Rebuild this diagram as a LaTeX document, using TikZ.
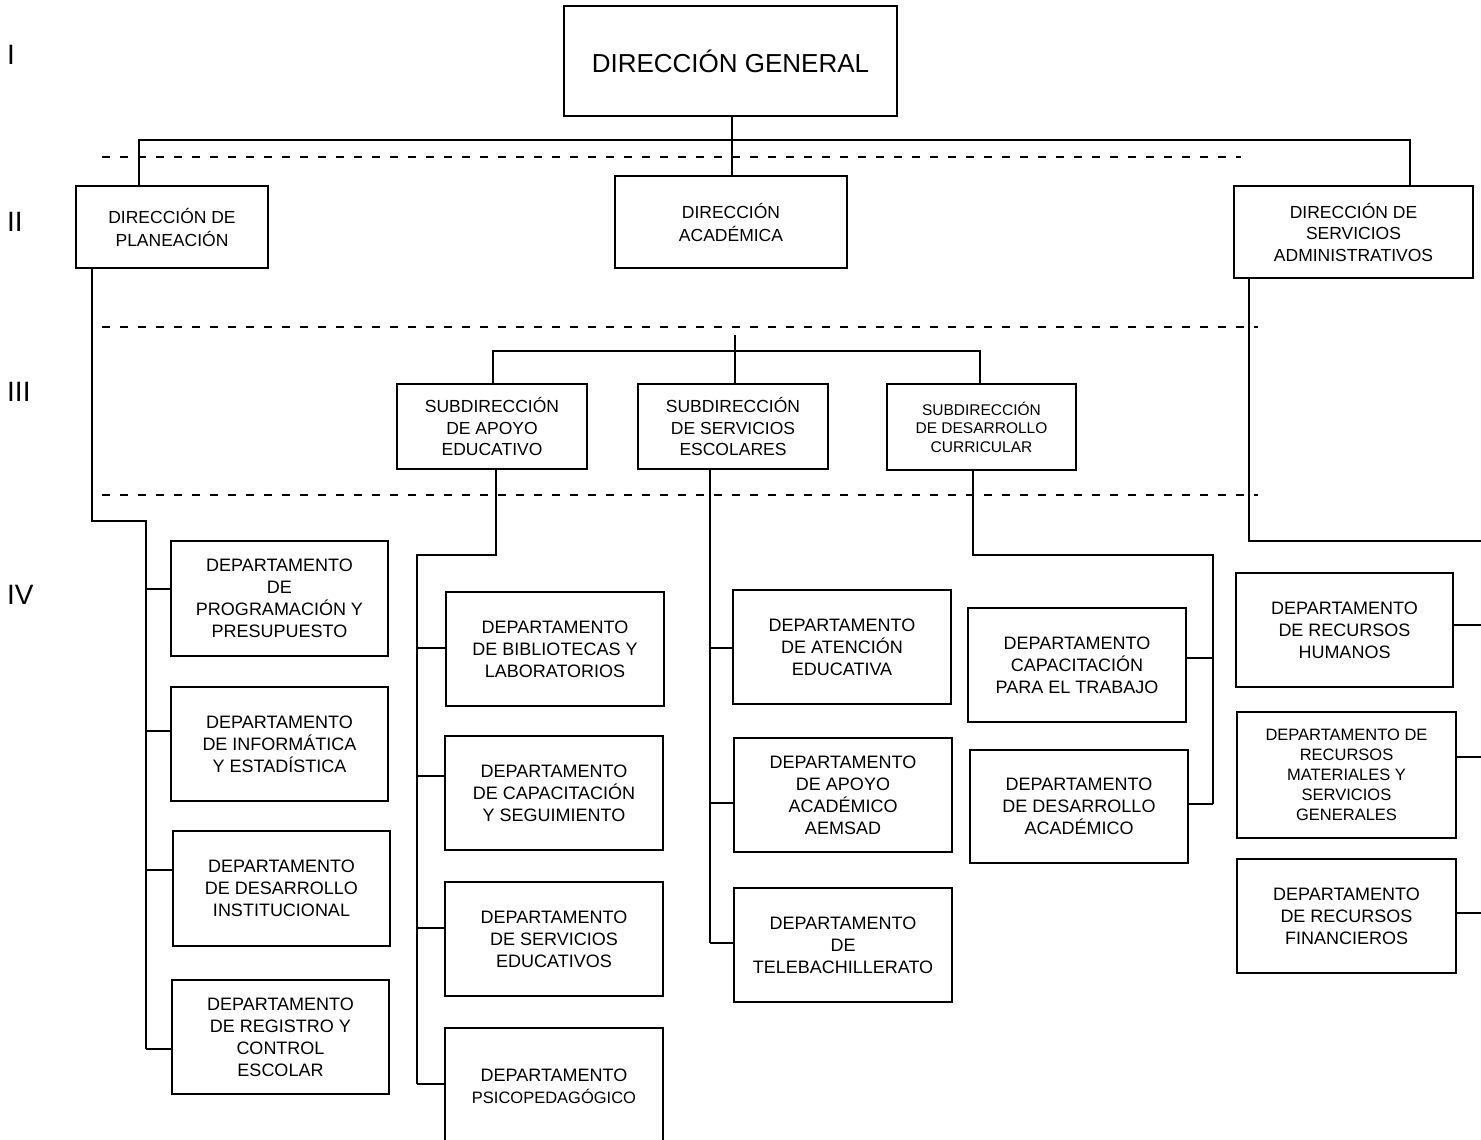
\documentclass[tikz,border=0pt]{standalone}
\usepackage{fontspec}
\setmainfont{Liberation Sans}
\begin{document}
\begin{tikzpicture}[x=1pt,y=-1pt,
  box/.style={draw,line width=1.6pt,inner sep=0pt,align=center,font=\fontsize{18}{22}\selectfont},
  dept/.style={box,minimum width=217pt,minimum height=114pt},
  conn/.style={line width=1.5pt},
  sepline/.style={line width=2.6pt,dash pattern=on 7.5pt off 10.5pt},
  lvl/.style={anchor=west,inner sep=0pt,font=\fontsize{28}{32}\selectfont}]
\useasboundingbox (0,0) rectangle (1481,1140);
\clip (0,0) rectangle (1481,1140);

% level labels
\node[lvl] (L1) at (7,55) {I};
\node[lvl] (L2) at (7,222) {II};
\node[lvl] (L3) at (7,392) {III};
\node[lvl] (L4) at (7,595) {IV};

% separators
\draw[sepline] (102,157) -- (1241,157);
\draw[sepline] (102,327) -- (1258,327);
\draw[sepline] (102,495) -- (1258,495);

% level I and II
\node[box,minimum width=333pt,minimum height=110pt,font=\fontsize{26}{30}\selectfont] (DG) at (730.5,61) {DIRECCIÓN GENERAL};
\node[box,minimum width=192pt,minimum height=82pt,font=\fontsize{17.5}{23}\selectfont] (DP) at (172,227) {DIRECCIÓN DE\\PLANEACIÓN};
\node[box,minimum width=232pt,minimum height=92pt,font=\fontsize{17.5}{23}\selectfont] (DA) at (731,222) {DIRECCIÓN\\ACADÉMICA};
\node[box,minimum width=239pt,minimum height=92pt,font=\fontsize{17.5}{21.5}\selectfont] (DSA) at (1353.5,232) {DIRECCIÓN DE\\SERVICIOS\\ADMINISTRATIVOS};

% level III
\node[box,minimum width=190pt,minimum height=85pt,font=\fontsize{17.5}{21.5}\selectfont] (SA) at (492,426.5) {SUBDIRECCIÓN\\DE APOYO\\EDUCATIVO};
\node[box,minimum width=190pt,minimum height=85pt,font=\fontsize{17.5}{21.5}\selectfont] (SS) at (733,426.5) {SUBDIRECCIÓN\\DE SERVICIOS\\ESCOLARES};
\node[box,minimum width=189pt,minimum height=86pt,font=\fontsize{15.5}{18.5}\selectfont] (SD) at (981.5,427) {SUBDIRECCIÓN\\DE DESARROLLO\\CURRICULAR};

% level IV - planeacion
\node[dept,minimum height=115pt] (B1) at (279.5,598.5) {DEPARTAMENTO\\DE\\PROGRAMACIÓN Y\\PRESUPUESTO};
\node[dept] (B2) at (279.5,744) {DEPARTAMENTO\\DE INFORMÁTICA\\Y ESTADÍSTICA};
\node[dept,minimum height=115pt] (B3) at (281.5,888.5) {DEPARTAMENTO\\DE DESARROLLO\\INSTITUCIONAL};
\node[dept] (B4) at (280.5,1037) {DEPARTAMENTO\\DE REGISTRO Y\\CONTROL\\ESCOLAR};

% apoyo educativo
\node[dept,minimum width=218pt] (A1) at (555,649) {DEPARTAMENTO\\DE BIBLIOTECAS Y\\LABORATORIOS};
\node[dept,minimum width=218pt] (A2) at (554,793) {DEPARTAMENTO\\DE CAPACITACIÓN\\Y SEGUIMIENTO};
\node[dept,minimum width=218pt] (A3) at (554,939) {DEPARTAMENTO\\DE SERVICIOS\\EDUCATIVOS};
\node[dept,minimum width=218pt,minimum height=116pt] (A4) at (554,1086) {DEPARTAMENTO\\{\fontsize{16.5}{20}\selectfont PSICOPEDAGÓGICO}};

% servicios escolares
\node[dept,minimum width=218pt] (S1) at (842,647) {DEPARTAMENTO\\DE ATENCIÓN\\EDUCATIVA};
\node[dept,minimum width=218pt] (S2) at (843,795) {DEPARTAMENTO\\DE APOYO\\ACADÉMICO\\AEMSAD};
\node[dept,minimum width=218pt] (S3) at (843,945) {DEPARTAMENTO\\DE\\TELEBACHILLERATO};

% desarrollo curricular
\node[dept,minimum width=218pt] (D1) at (1077,665) {DEPARTAMENTO\\CAPACITACIÓN\\PARA EL TRABAJO};
\node[dept,minimum width=218pt,minimum height=113pt] (D2) at (1079,806.5) {DEPARTAMENTO\\DE DESARROLLO\\ACADÉMICO};

% servicios administrativos
\node[dept] (R1) at (1344.5,630) {DEPARTAMENTO\\DE RECURSOS\\HUMANOS};
\node[dept,minimum width=219pt,minimum height=126pt,font=\fontsize{16.5}{20}\selectfont] (R2) at (1346.5,775) {DEPARTAMENTO DE\\RECURSOS\\MATERIALES Y\\SERVICIOS\\GENERALES};
\node[dept,minimum width=219pt] (R3) at (1346.5,916) {DEPARTAMENTO\\DE RECURSOS\\FINANCIEROS};

% coordinates
\coordinate (g) at (732,0);
\coordinate (t1) at (139,140);
\coordinate (t2) at (1410,140);
\coordinate (m0) at (735,335);
\coordinate (m1) at (735,351);
\coordinate (ml) at (493,351);
\coordinate (mr) at (980,351);
\coordinate (p0) at (92,521);
\coordinate (p1) at (146,521);
\coordinate (ps1) at (146,589);
\coordinate (ps2) at (146,731);
\coordinate (ps3) at (146,870);
\coordinate (ps4) at (146,1049);
\coordinate (a0) at (496,555);
\coordinate (a1) at (417,555);
\coordinate (as1) at (417,648);
\coordinate (as2) at (417,776);
\coordinate (as3) at (417,928);
\coordinate (as4) at (417,1084);
\coordinate (vs1) at (710,648);
\coordinate (vs2) at (710,803);
\coordinate (vs3) at (710,943);
\coordinate (d0) at (973,555);
\coordinate (d1) at (1213,555);
\coordinate (ds1) at (1213,658);
\coordinate (ds2) at (1213,804);
\coordinate (r0) at (1249,541);
\coordinate (r1) at (1481,541);
\coordinate (rs1) at (1481,625);
\coordinate (rs2) at (1481,757);
\coordinate (rs3) at (1481,913);

% connectors
\draw[conn] (g |- DG.south) -- (g |- DA.north);
\draw[conn] (t1 |- DP.north) -- (t1) -- (t2) -- (t2 |- DSA.north);
\draw[conn] (m0) -- (m1) -- (m1 |- SS.north);
\draw[conn] (ml |- SA.north) -- (ml) -- (mr) -- (mr |- SD.north);

\draw[conn] (p0 |- DP.south) -- (p0) -- (p1) -- (ps4);
\draw[conn] (ps1) -- (ps1 -| B1.west);
\draw[conn] (ps2) -- (ps2 -| B2.west);
\draw[conn] (ps3) -- (ps3 -| B3.west);
\draw[conn] (ps4) -- (ps4 -| B4.west);

\draw[conn] (a0 |- SA.south) -- (a0) -- (a1) -- (as4);
\draw[conn] (as1) -- (as1 -| A1.west);
\draw[conn] (as2) -- (as2 -| A2.west);
\draw[conn] (as3) -- (as3 -| A3.west);
\draw[conn] (as4) -- (as4 -| A4.west);

\draw[conn] (vs1 |- SS.south) -- (vs3);
\draw[conn] (vs1) -- (vs1 -| S1.west);
\draw[conn] (vs2) -- (vs2 -| S2.west);
\draw[conn] (vs3) -- (vs3 -| S3.west);

\draw[conn] (d0 |- SD.south) -- (d0) -- (d1) -- (ds2);
\draw[conn] (ds1 -| D1.east) -- (ds1);
\draw[conn] (ds2 -| D2.east) -- (ds2);

\draw[conn] (r0 |- DSA.south) -- (r0) -- (r1);
\draw[conn] (rs1 -| R1.east) -- (rs1);
\draw[conn] (rs2 -| R2.east) -- (rs2);
\draw[conn] (rs3 -| R3.east) -- (rs3);
\end{tikzpicture}
\end{document}
